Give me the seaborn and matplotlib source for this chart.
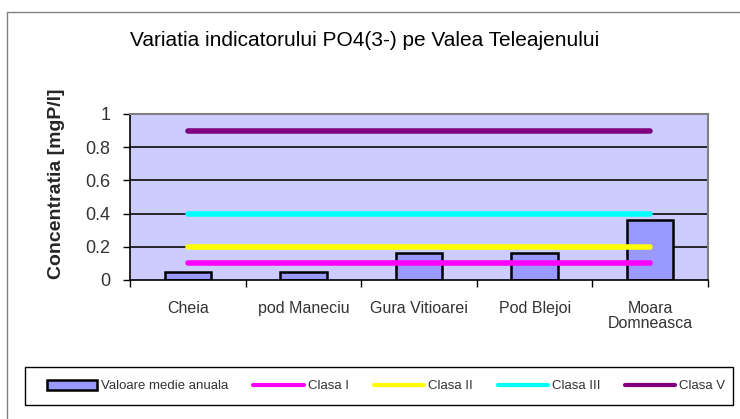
import numpy as np
import matplotlib
matplotlib.use("Agg")
import matplotlib.pyplot as plt
import seaborn as sns
from matplotlib.lines import Line2D
from matplotlib.patches import Patch, Rectangle

# Data
stations = ["Cheia", "pod Maneciu", "Gura Vitioarei", "Pod Blejoi", "Moara\nDomneasca"]
valoare_medie = [0.05, 0.05, 0.16, 0.16, 0.36]
clasa_1 = [0.1, 0.1, 0.1, 0.1, 0.1]
clasa_2 = [0.2, 0.2, 0.2, 0.2, 0.2]
clasa_3 = [0.4, 0.4, 0.4, 0.4, 0.4]
clasa_5 = [0.9, 0.9, 0.9, 0.9, 0.9]
y_ticks = [0, 0.2, 0.4, 0.6, 0.8, 1]
y_tick_labels = ["0", "0.2", "0.4", "0.6", "0.8", "1"]

sns.set_theme(style="white")
plt.rcParams["font.family"] = ["Liberation Sans", "DejaVu Sans"]

W, H = 740, 419
fig = plt.figure(figsize=(7.4, 4.19), dpi=100)
ax = fig.add_axes([130 / W, 1 - 280 / H, 578 / W, 166 / H])
ax.set_facecolor("#CCCCFF")

# gridlines
for t in y_ticks[1:]:
    ax.axhline(t, color="#1a1a1a", lw=1.3, zorder=1)

sns.barplot(x=stations, y=valoare_medie, color="#9999FF", edgecolor="black",
            linewidth=1.8, width=0.4, saturation=1, ax=ax, zorder=2)

series = [("Clasa I", clasa_1, "#FF00FF"), ("Clasa II", clasa_2, "#FFFF00"),
          ("Clasa III", clasa_3, "#00FFFF"), ("Clasa V", clasa_5, "#800080")]
for name, vals, col in series:
    ax.plot(np.arange(len(stations)), vals, color=col, lw=4, solid_capstyle="round", zorder=3)

ax.set_xlim(-0.5, 4.5)
ax.set_ylim(0, 1)
ax.set_yticks(y_ticks)
ax.set_yticklabels(y_tick_labels)
ax.set_xticks(np.arange(len(stations)))
ax.set_xticklabels(stations, linespacing=1.0)
ax.set_xticks(np.arange(-0.5, 5, 1), minor=True)
ax.tick_params(axis="x", which="major", length=0, pad=15, labelsize=11.5, labelcolor="#333333")
ax.tick_params(axis="x", which="minor", length=5, width=1, color="black", direction="out", bottom=True)
ax.tick_params(axis="y", length=5, width=1, color="black", direction="out", left=True,
               labelsize=13, labelcolor="#333333", pad=9)
ax.set_xlabel("")
ax.set_ylabel("Concentratia [mgP/l]", fontsize=14, fontweight="bold", va="center")
ax.yaxis.set_label_coords(-0.128, 0.58)

for s in ["left", "bottom"]:
    ax.spines[s].set_color("black")
    ax.spines[s].set_linewidth(1.2)
for s in ["right", "top"]:
    ax.spines[s].set_color("#808080")
    ax.spines[s].set_linewidth(1.5)

fig.text(365 / W, 1 - 40 / H, "Variatia indicatorului PO4(3-) pe Valea Teleajenului",
         ha="center", va="center", fontsize=15, color="black")

# outer chart border
fig.add_artist(Line2D([7 / W, 7 / W], [0, 1 - 12 / H], transform=fig.transFigure,
                      color="#808080", lw=1))
fig.add_artist(Line2D([7 / W, 1], [1 - 12 / H, 1 - 12 / H], transform=fig.transFigure,
                      color="#808080", lw=1))

# legend box
fig.add_artist(Rectangle((25 / W, 1 - 405 / H), 708 / W, 38 / H, transform=fig.transFigure,
                         facecolor="white", edgecolor="black", lw=1))

handles = [Patch(facecolor="#9999FF", edgecolor="black", linewidth=1.8)]
handles += [Line2D([0], [0], color=c, lw=3) for _, _, c in series]
labels = ["Valoare medie anuala", "Clasa I", "Clasa II", "Clasa III", "Clasa V"]
leg = fig.legend(handles, labels, loc="center left", ncol=5,
                 bbox_to_anchor=(47 / W, 1 - 386 / H), frameon=False, fontsize=9.5,
                 handlelength=3.8, handleheight=0.8, handletextpad=0.3, columnspacing=1.9,
                 borderaxespad=0, borderpad=0)
for t in leg.get_texts():
    t.set_color("#333333")

fig.savefig("out.png", dpi=100)
